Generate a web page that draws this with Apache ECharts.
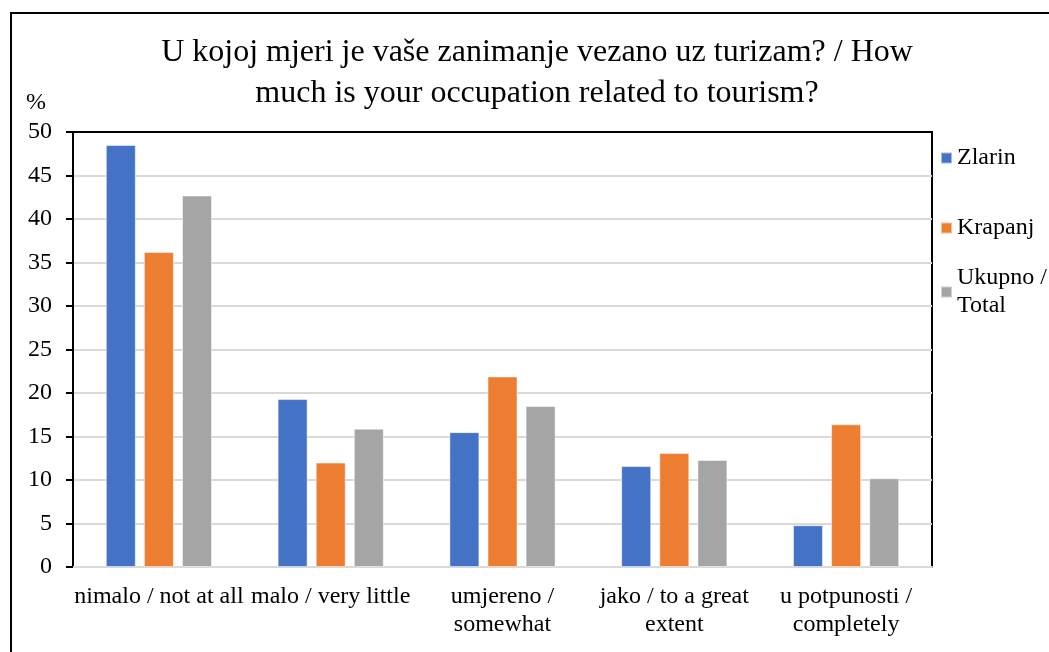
<!DOCTYPE html>
<html>
<head>
<meta charset="utf-8">
<script src="https://cdn.jsdelivr.net/npm/echarts@6/dist/echarts.min.js"></script>
<style>html,body{margin:0;padding:0;background:#fff;}#c{width:1049px;height:652px;}</style>
</head>
<body>
<div id="c"></div>
<script>
var titleText = 'U kojoj mjeri je vaše zanimanje vezano uz turizam? / How\nmuch is your occupation related to tourism?';
var categories = ['nimalo / not at all', 'malo / very little', 'umjereno /\nsomewhat', 'jako / to a great\nextent', 'u potpunosti /\ncompletely'];
var seriesNames = ['Zlarin', 'Krapanj', 'Ukupno / Total'];
var zlarin = [48.5, 19.3, 15.5, 11.6, 4.8];
var krapanj = [36.2, 12.0, 21.9, 13.1, 16.4];
var ukupno = [42.7, 15.9, 18.5, 12.3, 10.2];
var yTicks = {min: 0, max: 50, interval: 5};
var colors = ['#4472C4', '#ED7D31', '#A5A5A5'];

var FONT = 'Liberation Serif';
var chart = echarts.init(document.getElementById('c'), null, {renderer: 'canvas'});
function legendOf(name, top, fmt, pad) {
  return {
    data: [name], left: 940, top: top, padding: 0, orient: 'vertical',
    icon: 'rect', itemWidth: 11, itemHeight: 11, itemGap: 0,
    selectedMode: false,
    formatter: fmt || '{name}',
    textStyle: {fontFamily: FONT, fontSize: 24, color: '#000', lineHeight: 28, padding: pad || [0, 0, 0, 0]}
  };
}
var option = {
  backgroundColor: '#fff',
  color: colors,
  animation: false,
  title: {
    text: titleText, left: 537, top: 32, padding: 0, textAlign: 'center',
    textStyle: {fontFamily: FONT, fontSize: 32, fontWeight: 'normal', color: '#000', lineHeight: 41}
  },
  legend: [
    legendOf(seriesNames[0], 144),
    legendOf(seriesNames[1], 214),
    legendOf(seriesNames[2], 250, 'Ukupno /\nTotal', [28, 0, 0, 0])
  ],
  grid: {left: 73, right: 117, top: 132, bottom: 85, show: true, borderColor: '#000', borderWidth: 2, backgroundColor: 'transparent'},
  xAxis: [{
    type: 'category', data: categories,
    axisLine: {lineStyle: {color: '#D9D9D9', width: 2}},
    axisTick: {show: false},
    axisLabel: {interval: 0, margin: 16, fontFamily: FONT, fontSize: 24, lineHeight: 28, color: '#000'}
  }, {
    type: 'category', data: categories, position: 'top',
    axisLine: {show: true, lineStyle: {color: '#000', width: 2}},
    axisTick: {show: false}, axisLabel: {show: false}, splitLine: {show: false}
  }],
  yAxis: {
    type: 'value', min: yTicks.min, max: yTicks.max, interval: yTicks.interval,
    name: '%', nameLocation: 'end', nameGap: 29,
    nameTextStyle: {fontFamily: FONT, fontSize: 24, color: '#000', align: 'right', verticalAlign: 'middle', padding: [0, 27, 0, 0]},
    axisLine: {show: true, lineStyle: {color: '#000', width: 2}},
    axisTick: {show: true, inside: false, length: 7, lineStyle: {color: '#000', width: 2}},
    axisLabel: {margin: 21, fontFamily: FONT, fontSize: 24, color: '#000'},
    splitLine: {show: true, lineStyle: {color: '#D9D9D9', width: 2}}
  },
  series: [
    {name: seriesNames[0], type: 'bar', data: zlarin, barWidth: 30, barGap: '27%', itemStyle: {borderColor: 'rgba(255,255,255,0.5)', borderWidth: 1}},
    {name: seriesNames[1], type: 'bar', data: krapanj, barWidth: 30, barGap: '27%', itemStyle: {borderColor: 'rgba(255,255,255,0.5)', borderWidth: 1}},
    {name: seriesNames[2], type: 'bar', data: ukupno, barWidth: 30, barGap: '27%', itemStyle: {borderColor: 'rgba(255,255,255,0.5)', borderWidth: 1}}
  ],
  graphic: [{
    type: 'rect', silent: true, z: 100,
    shape: {x: 11, y: 13, width: 1100, height: 700},
    style: {fill: 'none', stroke: '#000', lineWidth: 2}
  }]
};
chart.setOption(option);
</script>
</body>
</html>
